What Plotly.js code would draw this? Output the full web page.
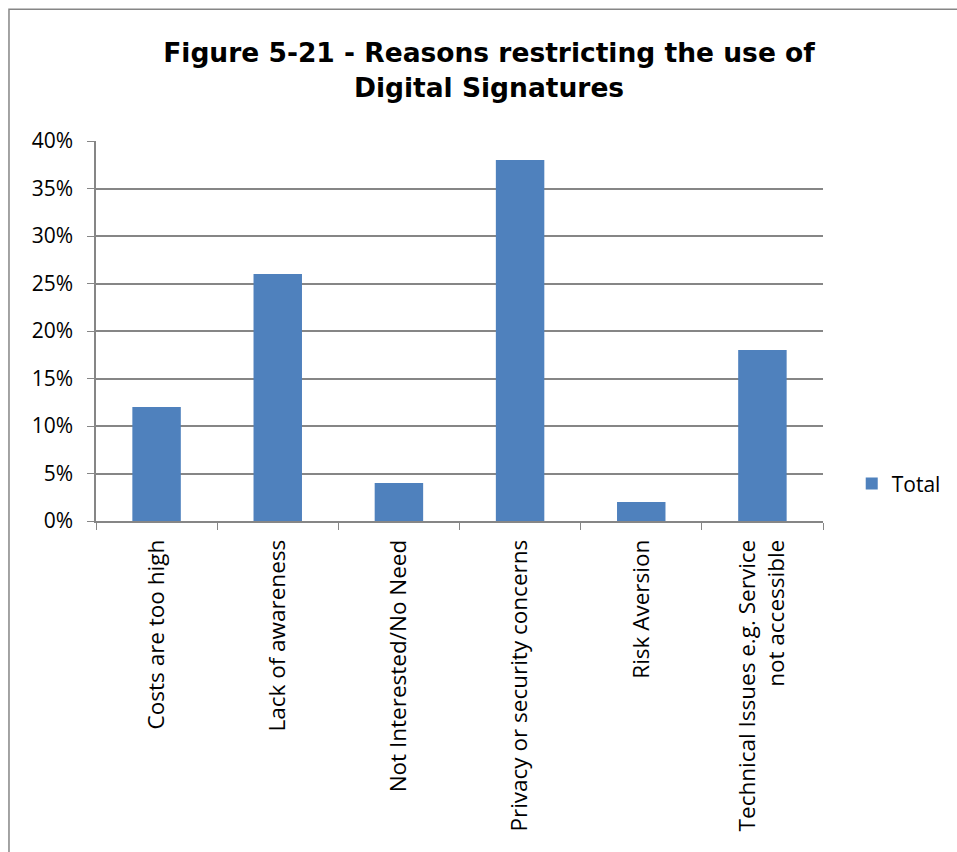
<!DOCTYPE html>
<html><head><meta charset="utf-8">
<script src="https://cdn.plot.ly/plotly-3.0.1.min.js"></script>
<style>body{margin:0;background:#fff}#c{width:957px;height:852px}</style>
</head><body><div id="c"></div>
<script>
const categories = ["Costs are too high","Lack of awareness","Not Interested/No Need","Privacy or security concerns","Risk Aversion","Technical Issues e.g. Service<br>not accessible"];
const totals = [0.12, 0.26, 0.04, 0.38, 0.02, 0.18];
const seriesName = "Total";
const yTicks = [0,0.05,0.10,0.15,0.20,0.25,0.30,0.35,0.40];
const yTickText = ["0%","5%","10%","15%","20%","25%","30%","35%","40%"];

const trace = {type:'bar', x:categories, y:totals, name:seriesName, marker:{color:'#4F81BD'}, showlegend:true};
const layout = {
  width:957, height:852,
  margin:{l:96, r:134, t:141, b:331},
  paper_bgcolor:'#fff', plot_bgcolor:'#fff',
  bargap:0.6,
  title:{text:'<b>Figure 5-21 - Reasons restricting the use of<br>Digital Signatures</b>', font:{family:'DejaVu Sans, sans-serif', size:26.5, color:'#000'}, x:0.511, xref:'container', y:0.927, yref:'container', yanchor:'middle', xanchor:'center'},
  xaxis:{tickangle:-90, tickfont:{family:'Open Sans, sans-serif', size:22.5, color:'#000'}, ticklabelstandoff:8, showline:true, linecolor:'#868686', linewidth:1.5, ticks:'outside', ticklen:7, tickcolor:'#868686', tickson:'boundaries', showgrid:false, automargin:false},
  yaxis:{range:[0,0.4], tickvals:yTicks, ticktext:yTickText, tickfont:{family:'Open Sans, sans-serif', size:21, color:'#000'}, ticklabelstandoff:10, showline:true, linecolor:'#868686', linewidth:1.5, ticks:'outside', ticklen:7, tickcolor:'#868686', showgrid:true, gridcolor:'#868686', gridwidth:1.5, zeroline:false, automargin:false},
  legend:{xref:'container', yref:'container', x:0.89, y:0.432, xanchor:'left', yanchor:'middle', font:{family:'Open Sans, sans-serif', size:21, color:'#000'}},
  shapes:[{type:'rect', xref:'paper', yref:'paper', x0:-0.1197, x1:1.2, y0:-0.9, y1:1.347, line:{color:'#868686', width:1.5}, fillcolor:'rgba(0,0,0,0)', layer:'below'}]
};
Plotly.newPlot('c',[trace],layout,{displayModeBar:false});
</script></body></html>
